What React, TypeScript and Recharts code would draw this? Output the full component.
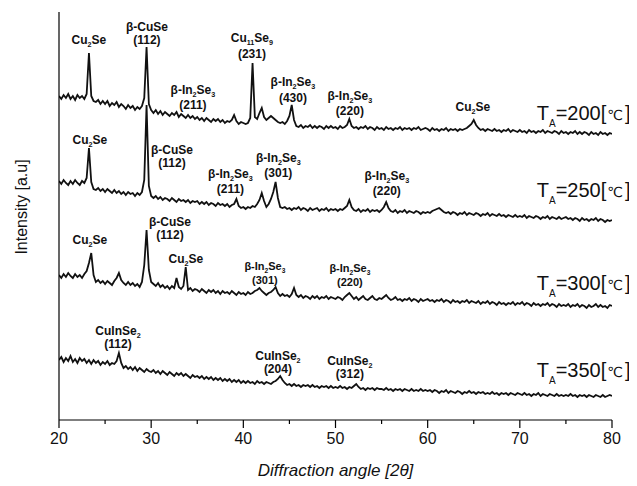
import { LineChart, Line, XAxis, YAxis, ReferenceDot } from 'recharts';

// scan grid of the diffractometer traces (2θ, degrees)
const ANGLE_START = 20;
const ANGLE_STEP = 0.25;

// intensities, already stacked (arbitrary units)
const T200 = [
  324, 321, 325, 322, 326, 321, 324, 320, 325, 322, 324, 321, 326, 367, 324, 319, 318, 320, 316, 319,
  316, 319, 314, 317, 315, 318, 313, 316, 314, 311, 315, 312, 314, 310, 313, 311, 314, 322, 373, 316,
  310, 307, 310, 306, 309, 305, 308, 306, 304, 307, 305, 308, 303, 306, 304, 302, 305, 302, 304, 301,
  303, 300, 302, 299, 302, 300, 298, 301, 299, 301, 298, 300, 297, 299, 298, 300, 305, 299, 296, 298,
  297, 296, 297, 302, 357, 303, 301, 307, 312, 303, 300, 302, 304, 302, 300, 298, 297, 298, 296, 299,
  304, 315, 300, 294, 293, 295, 292, 294, 293, 295, 292, 294, 292, 294, 293, 291, 294, 292, 294, 292,
  293, 291, 294, 292, 293, 295, 301, 294, 292, 293, 291, 293, 292, 294, 291, 293, 292, 290, 293, 291,
  292, 290, 293, 291, 292, 290, 292, 291, 293, 290, 292, 291, 292, 290, 292, 291, 293, 290, 291, 292,
  291, 289, 292, 290, 291, 289, 291, 290, 292, 289, 291, 290, 291, 289, 291, 290, 291, 292, 294, 296,
  300, 295, 292, 290, 291, 289, 291, 290, 289, 291, 289, 290, 288, 290, 289, 291, 288, 290, 289, 288,
  290, 288, 289, 287, 290, 288, 289, 287, 289, 288, 290, 287, 289, 288, 287, 289, 288, 286, 289, 287,
  288, 286, 288, 287, 289, 286, 288, 286, 288, 287, 285, 288, 286, 287, 285, 288, 286, 287, 285, 287,
  286,
];

const T250 = [
  239, 236, 240, 237, 235, 239, 236, 240, 237, 235, 239, 237, 242, 272, 238, 231, 230, 232, 229, 231,
  228, 231, 229, 227, 230, 227, 229, 226, 228, 225, 228, 226, 227, 224, 227, 225, 228, 240, 315, 234,
  224, 222, 224, 221, 223, 220, 222, 221, 219, 222, 220, 218, 221, 219, 220, 218, 220, 217, 219, 218,
  219, 216, 218, 216, 218, 215, 217, 216, 214, 217, 215, 216, 214, 216, 213, 215, 216, 221, 214, 212,
  213, 211, 213, 212, 214, 213, 216, 220, 227, 219, 213, 216, 221, 228, 238, 222, 213, 212, 213, 211,
  212, 210, 212, 211, 213, 210, 212, 211, 209, 212, 210, 211, 212, 209, 211, 210, 212, 209, 211, 210,
  211, 209, 211, 210, 212, 214, 220, 213, 210, 209, 211, 208, 210, 209, 211, 208, 210, 209, 210, 208,
  210, 213, 218, 212, 209, 208, 210, 207, 209, 208, 210, 207, 209, 208, 207, 209, 208, 206, 208, 207,
  208, 207, 209, 210, 211, 212, 210, 208, 207, 208, 206, 208, 207, 205, 207, 206, 208, 205, 207, 206,
  205, 207, 206, 204, 206, 205, 207, 204, 206, 205, 204, 206, 204, 205, 203, 205, 204, 203, 205, 203,
  204, 203, 205, 202, 204, 203, 202, 204, 203, 201, 203, 202, 204, 201, 203, 202, 201, 203, 201, 202,
  203, 201, 202, 200, 202, 201, 199, 202, 200, 201, 199, 201, 200, 202, 199, 201, 200, 198, 200, 199,
  200,
];

const T300 = [
  145, 142, 146, 143, 147, 144, 142, 146, 143, 145, 142, 146, 149, 157, 167, 145, 138, 140, 137, 139,
  136, 139, 137, 135, 139, 142, 147, 140, 137, 135, 138, 135, 137, 134, 136, 133, 138, 155, 190, 150,
  138, 136, 134, 137, 133, 135, 132, 134, 131, 134, 132, 142, 133, 131, 134, 153, 130, 132, 129, 131,
  130, 128, 131, 129, 127, 130, 128, 130, 127, 129, 126, 129, 127, 128, 126, 129, 127, 125, 128, 126,
  127, 125, 128, 126, 127, 129, 130, 132, 129, 127, 125, 127, 128, 130, 133, 127, 124, 126, 124, 125,
  123, 126, 132, 125, 123, 125, 122, 124, 123, 121, 124, 122, 124, 121, 123, 122, 124, 121, 123, 122,
  121, 123, 122, 120, 123, 125, 127, 124, 121, 123, 120, 122, 124, 121, 120, 122, 124, 121, 120, 122,
  121, 123, 125, 122, 120, 121, 123, 120, 121, 119, 121, 120, 122, 119, 121, 120, 118, 121, 119, 120,
  121, 119, 120, 118, 120, 119, 121, 118, 120, 119, 117, 120, 118, 119, 117, 119, 118, 120, 117, 119,
  118, 117, 119, 116, 118, 117, 119, 116, 118, 117, 115, 118, 116, 117, 115, 117, 116, 118, 115, 117,
  116, 118, 115, 117, 116, 114, 117, 115, 116, 114, 116, 115, 117, 114, 116, 115, 113, 116, 114, 115,
  114, 116, 113, 115, 114, 116, 113, 115, 114, 112, 115, 113, 114, 116, 113, 115, 113, 114, 112, 115,
  114,
];

const T350 = [
  60, 63, 58, 62, 59, 64, 58, 61, 57, 62, 59, 61, 57, 60, 56, 60, 57, 59, 55, 58,
  56, 59, 55, 57, 56, 59, 67, 57, 52, 54, 51, 53, 50, 53, 49, 52, 50, 48, 51, 49,
  48, 50, 47, 49, 46, 49, 47, 45, 48, 46, 44, 47, 45, 47, 44, 46, 44, 42, 45, 43,
  44, 42, 44, 41, 43, 41, 43, 40, 42, 40, 42, 39, 41, 39, 41, 38, 40, 38, 40, 37,
  39, 37, 39, 37, 38, 36, 39, 37, 38, 36, 38, 37, 36, 38, 39, 41, 44, 40, 37, 35,
  36, 34, 36, 34, 35, 33, 35, 34, 35, 33, 35, 33, 34, 32, 34, 33, 34, 32, 34, 32,
  33, 32, 34, 32, 33, 31, 33, 32, 34, 36, 33, 31, 32, 30, 32, 31, 32, 30, 32, 31,
  31, 30, 32, 30, 31, 29, 31, 30, 31, 29, 31, 30, 29, 31, 29, 30, 29, 31, 29, 30,
  29, 30, 28, 30, 29, 27, 29, 28, 30, 27, 29, 28, 27, 29, 28, 26, 28, 27, 29, 27,
  28, 26, 28, 27, 28, 26, 27, 26, 28, 26, 27, 25, 27, 26, 27, 25, 27, 26, 25, 27,
  26, 25, 27, 25, 26, 24, 26, 25, 27, 24, 26, 25, 24, 26, 25, 24, 26, 24, 25, 24,
  25, 24, 26, 24, 25, 23, 25, 24, 25, 23, 25, 24, 23, 25, 24, 23, 25, 23, 24, 25,
  24,
];

const SERIES_KEYS = ['t200', 't250', 't300', 't350'];
const TICKS = [20, 25, 30, 35, 40, 45, 50, 55, 60, 65, 70, 75, 80];

// peak annotations: anchor (angle, level) is the baseline of the first line
const PEAK_NAMES = [
  'Cu_2Se', 'β-CuSe', 'β-In_2Se_3', 'Cu_11Se_9', 'β-In_2Se_3', 'β-In_2Se_3', 'Cu_2Se',
  'Cu_2Se', 'β-CuSe', 'β-In_2Se_3', 'β-In_2Se_3', 'β-In_2Se_3',
  'Cu_2Se', 'β-CuSe', 'Cu_2Se', 'β-In_2Se_3', 'β-In_2Se_3',
  'CuInSe_2', 'CuInSe_2', 'CuInSe_2',
];
const PEAK_HKL = [
  '', '(112)', '(211)', '(231)', '(430)', '(220)', '',
  '', '(112)', '(211)', '(301)', '(220)',
  '', '(112)', '', '(301)', '(220)',
  '(112)', '(204)', '(312)',
];
const PEAK_ANGLE = [
  23.25, 29.54, 34.53, 40.93, 45.38, 51.56, 64.9,
  23.36, 32.26, 38.6, 43.8, 55.57,
  23.36, 32.04, 33.77, 42.34, 51.56,
  26.4, 43.75, 51.56,
];
const PEAK_LEVEL = [
  376, 389, 326, 378, 334, 320, 309,
  276, 266, 242, 258, 240,
  176, 194, 157, 150, 148,
  85, 60, 55,
];
const PEAK_GAP = [0, 13, 15, 16, 16, 15, 0, 0, 13, 15, 15, 15, 0, 13, 0, 14, 14, 13, 13, 13];

const TEMPS = ['200', '250', '300', '350'];
const TEMP_LEFT = 71.84;
const TEMP_LEVEL = [300, 223, 130, 43];

const FONT = '"Liberation Sans", Arial, sans-serif';
const INK = '#111';

const rows = T200.map((v, i) => ({
  angle: ANGLE_START + i * ANGLE_STEP,
  t200: v,
  t250: T250[i],
  t300: T300[i],
  t350: T350[i],
}));

function Chem({ text, x, y, size }: { text: string; x: number; y: number; size: number }) {
  const parts = text.split(/(_\d+)/).filter(Boolean);
  const shift = size * 0.26;
  let lowered = false;
  return (
    <text x={x} y={y} textAnchor="middle" fontSize={size} fontWeight="bold" fontFamily={FONT} fill={INK}>
      {parts.map((p, i) => {
        if (p.startsWith('_')) {
          lowered = true;
          return (
            <tspan key={i} fontSize={size * 0.6} dy={shift}>
              {p.slice(1)}
            </tspan>
          );
        }
        const dy = lowered ? -shift : 0;
        lowered = false;
        return (
          <tspan key={i} dy={dy}>
            {p}
          </tspan>
        );
      })}
    </text>
  );
}

function PeakLabel({ vb, idx }: { vb: any; idx: number }) {
  if (!vb) return null;
  const size = idx === 15 || idx === 16 ? 11 : 12;
  return (
    <g>
      <Chem text={PEAK_NAMES[idx]} x={vb.x} y={vb.y} size={size} />
      {PEAK_HKL[idx] && (
        <text x={vb.x} y={vb.y + PEAK_GAP[idx]} textAnchor="middle" fontSize={size} fontWeight="bold" fontFamily={FONT} fill={INK}>
          {PEAK_HKL[idx]}
        </text>
      )}
    </g>
  );
}

function TempLabel({ vb, temp }: { vb: any; temp: string }) {
  if (!vb) return null;
  return (
    <text x={vb.x} y={vb.y} fontSize={20} fontFamily={FONT} fill={INK}>
      <tspan>T</tspan>
      <tspan fontSize={10} dy={7}>A</tspan>
      <tspan dy={-7}>{`=${temp}[`}</tspan>
      <tspan dx={1} fontFamily='"DejaVu Sans", sans-serif' fontSize={14}>℃</tspan>
      <tspan dx={2}>]</tspan>
    </text>
  );
}

function AngleTick({ x, y, payload }: any) {
  const major = payload.value % 10 === 0;
  return (
    <g>
      <line x1={x} x2={x} y1={y} y2={y + (major ? 8 : 4)} stroke="#000" strokeWidth={1.2} />
      {major && (
        <text x={x} y={y + 24} textAnchor="middle" fontSize={16} fontFamily={FONT} fill={INK}>
          {payload.value}
        </text>
      )}
    </g>
  );
}

export default function App() {
  return (
    <div style={{ position: 'relative', width: 629, height: 478, background: '#fff' }}>
      <style>{'.recharts-surface{overflow:visible}'}</style>
      <LineChart width={629} height={478} data={rows} margin={{ top: 4, right: 25, left: 50, bottom: 8 }}>
        <XAxis
          type="number"
          dataKey="angle"
          domain={[20, 80]}
          ticks={TICKS}
          interval={0}
          allowDataOverflow
          height={58}
          tickSize={0}
          tickMargin={0}
          tickLine={false}
          tick={<AngleTick />}
          axisLine={{ stroke: '#000', strokeWidth: 1.2 }}
          label={{
            content: (p: any) =>
              p.viewBox ? (
                <text
                  x={p.viewBox.x + p.viewBox.width / 2}
                  y={p.viewBox.y + 56}
                  textAnchor="middle"
                  fontSize={17}
                  fontStyle="italic"
                  fontFamily={FONT}
                  fill={INK}
                >
                  Diffraction angle [2θ]
                </text>
              ) : null,
          }}
        />
        <YAxis
          type="number"
          domain={[0, 408]}
          allowDataOverflow
          width={1}
          tick={false}
          tickLine={false}
          axisLine={{ stroke: '#000', strokeWidth: 1.2 }}
        />
        {SERIES_KEYS.map((k) => (
          <Line
            key={k}
            type="linear"
            dataKey={k}
            stroke={INK}
            strokeWidth={1.8}
            dot={false}
            isAnimationActive={false}
          />
        ))}
        {PEAK_NAMES.map((_, i) => (
          <ReferenceDot
            key={`peak-${i}`}
            x={PEAK_ANGLE[i]}
            y={PEAK_LEVEL[i]}
            r={0}
            fill="none"
            stroke="none"
            ifOverflow="visible"
            label={{ content: (p: any) => <PeakLabel vb={p.viewBox} idx={i} /> }}
          />
        ))}
        {TEMPS.map((t, i) => (
          <ReferenceDot
            key={`temp-${t}`}
            x={TEMP_LEFT}
            y={TEMP_LEVEL[i]}
            r={0}
            fill="none"
            stroke="none"
            ifOverflow="visible"
            label={{ content: (p: any) => <TempLabel vb={p.viewBox} temp={t} /> }}
          />
        ))}
      </LineChart>
      <div
        style={{
          position: 'absolute',
          left: 14,
          top: 199,
          transform: 'translate(-50%, -50%) rotate(-90deg)',
          whiteSpace: 'nowrap',
          fontFamily: FONT,
          fontSize: 16,
          color: INK,
          pointerEvents: 'none',
        }}
      >
        Intensity [a.u]
      </div>
    </div>
  );
}
